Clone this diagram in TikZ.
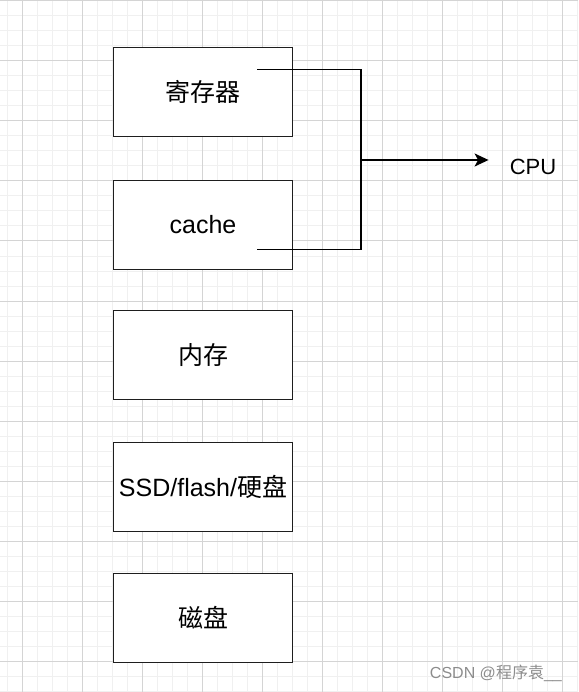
\documentclass[tikz,border=0pt]{standalone}
\usepackage{fontspec}
\setmainfont{Liberation Sans}
\newfontfamily\cjk{Noto Sans CJK SC}
\usepackage{tikz}
\usetikzlibrary{arrows.meta,positioning}
\definecolor{gridmajor}{RGB}{212,212,212}
\definecolor{gridminor}{RGB}{240,240,240}
\definecolor{boxline}{RGB}{30,30,30}
\tikzset{
  membox/.style={draw=boxline, line width=1.8pt, fill=white, minimum width=179pt, minimum height=89pt, inner sep=0pt, font=\fontsize{25}{30}\selectfont},
  bus/.style={black, line width=1.6pt},
}
\begin{document}
\begin{tikzpicture}[x=1pt, y=-1pt]
  \useasboundingbox (0,0) rectangle (578,692);
  % background grid
  \foreach \gx in {7,22,...,577} \draw[gridminor, line width=1pt] (\gx,0) -- (\gx,692);
  \foreach \gy in {1,16,...,691} \draw[gridminor, line width=1pt] (0,\gy) -- (578,\gy);
  \foreach \gx in {22,82,...,562} \draw[gridmajor, line width=1pt] (\gx,0) -- (\gx,692);
  \foreach \gy in {1,61,...,661} \draw[gridmajor, line width=1pt] (0,\gy) -- (578,\gy);
  % memory levels
  \node[membox] (reg) at (203,92) {\raisebox{-3pt}{\cjk 寄存器}};
  \node[membox] (cache) at (203,225) {cache};
  \node[membox] (mem) at (203,355) {\cjk 内存};
  \node[membox] (ssd) at (203,487) {SSD/flash/{\cjk 硬盘}};
  \node[membox] (disk) at (203,618) {\cjk 磁盘};
  % to the cpu
  \node[font=\fontsize{22}{26}\selectfont, inner sep=0pt] (cpu) at (533,167) {CPU};
  \coordinate (regtap) at ([xshift=-36pt,yshift=-23pt]reg.north east);
  \coordinate (cachetap) at ([xshift=-36pt,yshift=-70pt]cache.north east);
  \coordinate (join) at (361,160);
  \coordinate (tip) at ([xshift=-21pt]cpu.west |- join);
  \draw[bus] (regtap) -- (regtap -| join) -- (cachetap -| join) -- (cachetap);
  \draw[bus, -{Stealth[length=14pt, width=13pt, inset=3.5pt]}] (join) -- (tip);
  \node[text=black!45, font=\fontsize{16}{19}\selectfont, anchor=east, inner sep=0pt] (mark) at (562,673) {CSDN @{\cjk 程序袁}\_\_};
\end{tikzpicture}
\end{document}
